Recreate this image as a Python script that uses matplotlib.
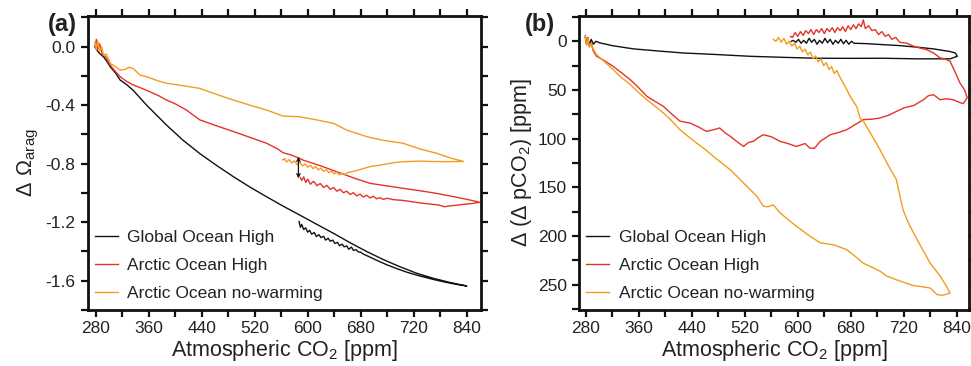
import matplotlib
matplotlib.use("Agg")
import matplotlib.pyplot as plt

plt.rcParams['font.family'] = ['Liberation Sans', 'DejaVu Sans']
plt.rcParams['mathtext.default'] = 'regular'

BLACK = '#111111'
RED = '#e5332a'
ORANGE = '#f39c1f'
TXT = '#222222'

labels = ['Global Ocean High', 'Arctic Ocean High', 'Arctic Ocean no-warming']
xtick_pos = [280, 320, 360, 400, 440, 480, 520, 560, 600, 640, 680, 720, 760, 800, 840]
xtick_lab = ['280', '', '360', '', '440', '', '520', '', '600', '', '680', '', '720', '', '840']
a_ytick_pos = [0.2, 0.0, -0.2, -0.4, -0.6, -0.8, -1.0, -1.2, -1.4, -1.6, -1.8]
a_ytick_lab = ['', '0.0', '', '-0.4', '', '-0.8', '', '-1.2', '', '-1.6', '']
b_ytick_pos = [-25, 0, 25, 50, 75, 100, 125, 150, 175, 200, 225, 250, 275]
b_ytick_lab = ['', '0', '', '50', '', '100', '', '150', '', '200', '', '250', '']

# ---- panel (a): change in aragonite saturation ----
a_glob_co2 = [279, 283, 287, 292, 297, 302, 310, 317, 327, 337, 357, 387, 412, 437, 462, 488,
              513, 538, 563, 588, 614, 639, 664, 689, 714, 739, 764, 790, 815, 840,
              825, 810, 795, 780, 765, 750, 735, 720, 705, 690, 684, 680, 676, 673, 669, 666, 662,
              659, 655, 652, 648, 645, 641, 638, 634, 631, 627, 624, 620, 617, 613, 610, 606, 603,
              600, 597, 594, 591, 589, 587]
a_glob_val = [0.0, -0.03, -0.05, -0.07, -0.10, -0.137, -0.18, -0.228, -0.26, -0.30, -0.40, -0.536,
              -0.64, -0.73, -0.81, -0.889, -0.96, -1.026, -1.09, -1.151, -1.215, -1.276, -1.34,
              -1.40, -1.455, -1.504, -1.548, -1.584, -1.612, -1.636,
              -1.625, -1.612, -1.597, -1.580, -1.562, -1.542, -1.518, -1.492, -1.462, -1.430,
              -1.418, -1.405, -1.402, -1.388, -1.392, -1.370, -1.385, -1.362, -1.368, -1.350,
              -1.360, -1.338, -1.345, -1.322, -1.330, -1.310, -1.322, -1.296, -1.305, -1.285,
              -1.298, -1.270, -1.282, -1.255, -1.268, -1.238, -1.250, -1.215, -1.235, -1.195]

a_arc_co2 = [279, 281, 283, 286, 290, 295, 302, 308, 317, 326, 337, 350, 362, 375, 387, 400, 417,
             437, 462, 488, 513, 538, 555, 563, 575, 588, 593, 620, 644, 668, 694, 720, 744, 770,
             795, 820, 845, 860,
             848, 835, 822, 812, 806, 798, 785, 770, 755, 742, 730, 720, 714, 709, 704, 699, 694,
             689, 684, 679, 674, 669, 664, 659, 654, 649, 644, 639, 634, 629, 624, 619, 614, 609,
             604, 600, 597, 594, 591, 589]
a_arc_val = [0.0, 0.05, -0.02, 0.02, -0.05, -0.07, -0.125, -0.16, -0.205, -0.235, -0.262, -0.285,
             -0.308, -0.335, -0.365, -0.39, -0.433, -0.50, -0.54, -0.58, -0.62, -0.66, -0.70,
             -0.725, -0.74, -0.764, -0.775, -0.815, -0.855, -0.895, -0.934, -0.952, -0.968,
             -0.985, -1.003, -1.025, -1.048, -1.064,
             -1.072, -1.078, -1.085, -1.090, -1.094, -1.082, -1.076, -1.068, -1.058, -1.050,
             -1.046, -1.036, -1.044, -1.032, -1.040, -1.022, -1.034, -1.015, -1.028, -1.008,
             -1.020, -0.998, -1.010, -0.988, -0.998, -0.975, -0.988, -0.962, -0.975, -0.948,
             -0.962, -0.935, -0.950, -0.920, -0.940, -0.905, -0.928, -0.890, -0.915, -0.895]

a_now_co2 = [279, 281, 283, 286, 289, 292, 296, 302, 308, 317, 325, 330, 337, 347, 360, 375, 387,
             410, 437, 462, 488, 513, 538, 563, 588, 613, 639, 659, 689, 714, 744, 770, 795, 815,
             835,
             810, 790, 770, 750, 734, 715, 694, 675, 660, 656, 652, 648, 644, 640, 636, 632, 628,
             624, 620, 616, 612, 608, 604, 600, 596, 592, 588, 584, 580, 576, 572, 568, 565, 562]
a_now_val = [0.03, -0.02, 0.04, -0.03, 0.0, -0.06, -0.05, -0.114, -0.13, -0.16, -0.155, -0.14,
             -0.15, -0.194, -0.21, -0.235, -0.25, -0.265, -0.285, -0.325, -0.365, -0.40, -0.433,
             -0.474, -0.479, -0.50, -0.524, -0.57, -0.615, -0.64, -0.66, -0.70, -0.729, -0.76,
             -0.784,
             -0.786, -0.785, -0.782, -0.785, -0.79, -0.805, -0.82, -0.845, -0.862, -0.874,
             -0.864, -0.876, -0.858, -0.870, -0.850, -0.862, -0.840, -0.852, -0.830, -0.842,
             -0.820, -0.834, -0.810, -0.824, -0.800, -0.815, -0.790, -0.806, -0.780, -0.795,
             -0.772, -0.788, -0.765, -0.775]

# ---- panel (b): change in air-sea pCO2 difference ----
b_glob_co2 = [279, 281, 283, 285, 288, 291, 295, 301, 320, 352, 390, 427, 475, 528, 580, 628,
              680, 729, 780, 830, 841,
              838, 830, 805, 780, 754, 730, 704, 685,
              681, 677, 673, 669, 665, 661, 657, 653, 649, 645, 641, 637, 633, 629, 625, 621, 617,
              613, 609, 605, 601, 597, 593, 590]
b_glob_val = [-4, 3, -3, 4, -2, 3, 0, 1.6, 4.5, 7.8, 10, 12, 13.5, 15.4, 16.5, 17.4, 17.5, 17.4,
              18, 18, 15.4,
              12, 10.5, 7.8, 6, 4.4, 3.5, 2.4, 2,
              0, 3, -1, 2.5, -2, 2, -1, 3, -2, 1.5, -3, 2, -1, 3, -2, 1, -3, 2, -1, 2, -2, 1, -1, 0]

b_arc_co2 = [279, 281, 283, 285, 288, 291, 296, 308, 321, 333, 347, 360, 372, 385, 397, 410, 422,
             437, 450, 462, 472, 482, 490, 498, 508, 518, 525, 533, 540, 548, 560, 573, 585, 598,
             611, 618, 625, 634, 649, 660, 674, 688, 699, 712, 724, 737, 749, 762, 775, 790, 797,
             805, 815, 825, 835, 845, 850, 856,
             852, 845, 838, 830, 822, 815, 805, 795, 785, 775, 765,
             754, 748, 742, 737, 732, 727, 722, 717, 712, 707, 702, 699, 696, 692, 688, 684, 680,
             676, 672, 668, 664, 660, 656, 652, 648, 644, 640, 636, 632, 628, 624, 620, 616, 612,
             608, 604, 600, 596, 592, 589]
b_arc_val = [-6, 3, -4, 5, 2, 10, 15.4, 20, 25.7, 32, 39.4, 48, 56.5, 62, 66.8, 75, 82, 84, 88,
             92.5, 91, 89, 94, 97.6, 103, 108, 104, 102.7, 99, 96, 98, 102.7, 105, 108, 105, 109.6,
             110, 102.7, 96, 94, 90.8, 85, 80.5, 80, 78.8, 76, 72, 68, 66, 60, 56, 54.8, 60, 59, 60,
             63, 64, 58,
             50, 42.8, 32, 20.5, 18, 17, 12, 8.6, 7, 5, 2,
             1, -4, -2, -7, -5, -10, -7, -12, -11, -16, -13, -22, -15, -18, -13, -17, -12, -16,
             -10, -15, -11, -14, -9, -14, -10, -13, -8, -13, -9, -12, -7, -12, -8, -11, -6, -10,
             -5, -9, -4, -5]

b_now_co2 = [279, 281, 283, 285, 288, 291, 296, 308, 321, 333, 347, 360, 372, 385, 397, 410, 422,
             435, 447, 460, 472, 485, 498, 510, 523, 538, 548, 555, 563, 573, 585, 598, 608, 618,
             634, 654, 674, 687, 699, 712, 724, 734, 749, 762, 775, 787, 800, 810, 818, 830,
             825, 815, 808, 800, 787, 775, 766, 759, 754, 749, 737, 724, 712, 699, 694, 689, 679,
             674,
             663, 659, 655, 651, 647, 643, 639, 635, 631, 627, 623, 619, 615, 611, 607, 603, 599,
             595, 591, 587, 583, 579, 575, 571, 567, 563]
b_now_val = [-5, 4, -3, 6, 2, 8, 13.7, 21, 29, 37, 44.5, 53, 60, 67, 73.6, 82, 90.8, 98, 104.5,
             111, 118, 125, 132, 140, 149, 159, 169.5, 170, 168, 176, 183, 190, 195, 200, 207, 209,
             214, 221, 228, 232, 236, 241, 245, 248, 251, 252, 253.4, 260, 261, 258.6,
             252, 241, 235, 228, 212, 197, 185, 173, 158, 142, 128, 111, 97, 82, 78.6, 67, 56.5,
             49.6,
             36, 30, 33, 26, 29, 22, 25, 18, 21, 15, 18, 11, 14, 8, 11, 5, 8, 2, 5, 0, 3, -3, 1, -4,
             0, -2]


fig = plt.figure(figsize=(9.71, 3.66), dpi=100)
axa = fig.add_axes([0.0906, 0.153, 0.4048, 0.8033])
axb = fig.add_axes([0.5966, 0.153, 0.4013, 0.8033])


def style(ax):
    for sp in ax.spines.values():
        sp.set_linewidth(2.0)
        sp.set_color(BLACK)
    ax.tick_params(direction='out', top=True, right=True, length=5, width=1.6,
                   labelsize=12.5, colors=BLACK, labelcolor=TXT, pad=3)
    ax.tick_params(axis='y', pad=4)
    ax.set_xticks(xtick_pos)
    ax.set_xticklabels(xtick_lab)
    ax.set_xlabel('Atmospheric CO$_2$ [ppm]', fontsize=15.5, color=TXT, labelpad=1)


lw = 1.0
axa.plot(a_glob_co2, a_glob_val, color=BLACK, lw=lw, label=labels[0])
axa.plot(a_arc_co2, a_arc_val, color=RED, lw=lw, label=labels[1])
axa.plot(a_now_co2, a_now_val, color=ORANGE, lw=lw, label=labels[2])
axa.annotate('', xy=(586, -0.90), xytext=(586, -0.752),
             arrowprops=dict(arrowstyle='<->', lw=0.9, color=BLACK, mutation_scale=6,
                             shrinkA=0, shrinkB=0))
axa.set_xlim(268.4, 861.6)
axa.set_ylim(-1.8, 0.21)
style(axa)
axa.set_yticks(a_ytick_pos)
axa.set_yticklabels(a_ytick_lab)
axa.set_ylabel(r'$\Delta\ \Omega_{arag}$', fontsize=15.5, color=TXT, labelpad=3)

axb.plot(b_glob_co2, b_glob_val, color=BLACK, lw=lw, label=labels[0])
axb.plot(b_arc_co2, b_arc_val, color=RED, lw=lw, label=labels[1])
axb.plot(b_now_co2, b_now_val, color=ORANGE, lw=lw, label=labels[2])
axb.set_xlim(269.9, 858.6)
axb.set_ylim(276, -26)
style(axb)
axb.set_yticks(b_ytick_pos)
axb.set_yticklabels(b_ytick_lab)
axb.set_ylabel(r'$\Delta$ ($\Delta$ pCO$_2$) [ppm]', fontsize=15.5, color=TXT, labelpad=3)

for ax in (axa, axb):
    leg = ax.legend(loc='lower left', bbox_to_anchor=(0.009, 0.018), frameon=False,
                    fontsize=12.5, handlelength=1.32, handletextpad=0.55, labelspacing=0.74,
                    borderpad=0.2, borderaxespad=0.0)
    for t in leg.get_texts():
        t.set_color(TXT)

fig.text(0.064, 0.934, '(a)', fontsize=17, fontweight='bold', ha='center', va='center', color=TXT)
fig.text(0.556, 0.934, '(b)', fontsize=17, fontweight='bold', ha='center', va='center', color=TXT)

fig.savefig('out.png', dpi=100)
